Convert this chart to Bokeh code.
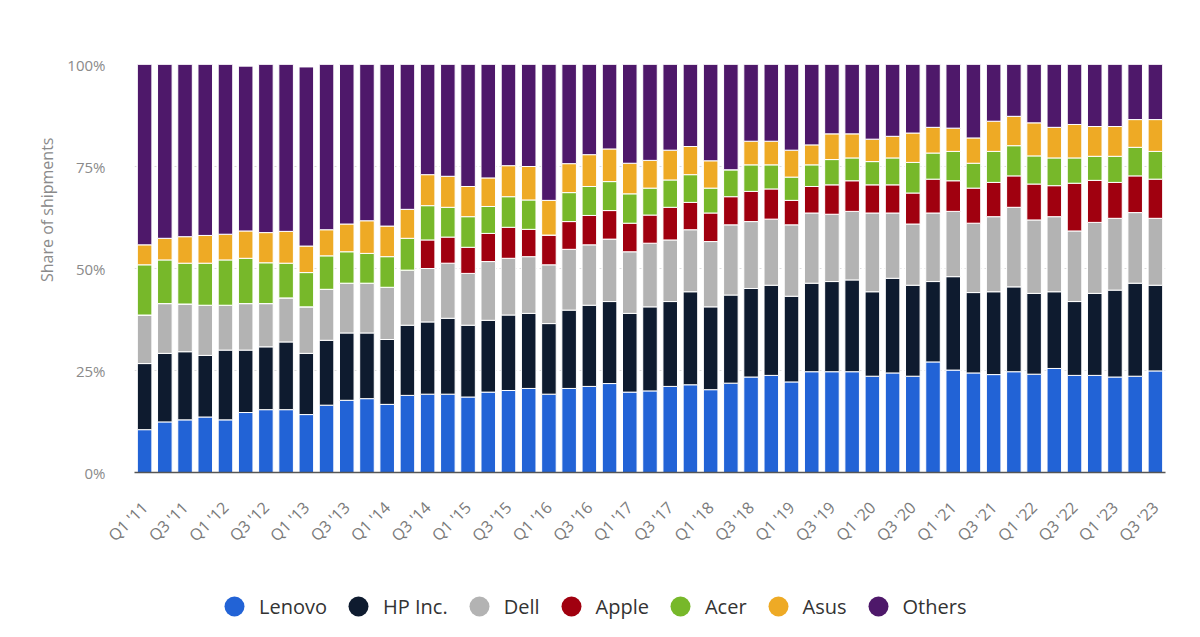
import math
from bokeh.plotting import figure
from bokeh.layouts import column
from bokeh.models import (ColumnDataSource, Range1d, FixedTicker, PrintfTickFormatter,
                          Legend, LegendItem, Title)
from bokeh.embed import file_html
from bokeh.resources import INLINE

quarters = [f"Q{q} '{y:02d}" for y in range(11, 24) for q in range(1, 5)][:51]

lenovo = [10.5, 12.4, 12.9, 13.6, 12.9, 14.7, 15.4, 15.4, 14.2, 16.5,
          17.7, 18.1, 16.7, 18.9, 19.2, 19.2, 18.5, 19.7, 20.1, 20.6,
          19.2, 20.6, 21.1, 21.8, 19.7, 20.0, 21.1, 21.5, 20.3, 21.9,
          23.4, 23.8, 22.2, 24.7, 24.7, 24.7, 23.6, 24.4, 23.6, 27.1,
          25.1, 24.4, 24.0, 24.7, 24.1, 25.5, 23.8, 23.8, 23.4, 23.6, 24.9]
hp = [16.2, 16.8, 16.7, 15.1, 17.1, 15.3, 15.4, 16.6, 15.0, 15.9,
      16.5, 16.1, 15.9, 17.2, 17.7, 18.6, 17.6, 17.6, 18.5, 18.4,
      17.3, 19.2, 19.9, 20.1, 19.3, 20.6, 20.8, 22.8, 20.3, 21.6,
      21.7, 22.1, 21.0, 21.7, 22.1, 22.5, 20.7, 23.2, 22.3, 19.7,
      22.9, 19.7, 20.3, 20.8, 19.8, 18.8, 18.1, 20.1, 21.3, 22.8, 21.0]
dell = [11.9, 12.2, 11.7, 12.3, 11.0, 11.4, 10.6, 10.8, 11.4, 12.5,
        12.2, 12.2, 12.8, 13.5, 13.1, 13.5, 12.7, 14.4, 13.9, 13.9,
        14.4, 14.9, 14.8, 15.3, 15.1, 15.6, 15.1, 15.2, 16.0, 17.2,
        16.4, 16.2, 17.5, 17.2, 16.5, 16.8, 19.3, 16.0, 15.0, 16.8,
        16.0, 17.0, 18.4, 19.5, 18.0, 18.4, 17.3, 17.4, 17.6, 17.3, 16.4]
apple = [0, 0, 0, 0, 0, 0, 0, 0, 0, 0,
         0, 0, 0, 0, 7.0, 6.4, 6.4, 6.9, 7.6, 6.7,
         7.3, 6.8, 7.2, 7.0, 7.0, 6.9, 8.0, 6.7, 7.0, 6.9,
         7.4, 7.4, 6.0, 6.5, 7.2, 7.5, 6.9, 6.9, 7.6, 8.3,
         7.5, 8.6, 8.4, 7.7, 8.8, 7.6, 11.7, 10.3, 8.8, 9.0, 9.6]
acer = [12.3, 10.7, 10.0, 10.3, 11.1, 11.1, 10.0, 8.5, 8.4, 8.2,
        7.7, 7.3, 7.5, 7.8, 8.4, 7.3, 7.5, 6.6, 7.5, 7.2,
        0, 7.1, 7.1, 7.1, 7.2, 6.6, 6.7, 6.8, 6.1, 6.6,
        6.5, 5.9, 5.7, 5.3, 6.2, 5.6, 5.7, 6.6, 7.5, 6.4,
        7.2, 6.1, 7.6, 7.4, 6.9, 6.8, 6.2, 5.9, 6.4, 7.0, 6.8]
asus = [4.9, 5.3, 6.5, 6.8, 6.3, 6.7, 7.4, 7.8, 6.5, 6.4,
        6.8, 8.0, 7.5, 7.1, 7.6, 7.6, 7.4, 7.0, 7.6, 8.2,
        8.5, 7.1, 7.8, 8.0, 7.5, 6.8, 7.3, 6.9, 6.7, 0,
        5.8, 5.8, 6.6, 4.9, 6.3, 5.9, 5.5, 5.3, 7.2, 6.3,
        5.7, 6.2, 7.4, 7.2, 8.1, 7.5, 8.2, 7.3, 7.3, 6.8, 7.8]
others = [44.2, 42.6, 42.2, 41.9, 41.6, 40.4, 41.2, 40.9, 43.9, 40.5,
          39.1, 38.3, 39.6, 35.5, 27.0, 27.4, 29.9, 27.8, 24.8, 25.0,
          33.3, 24.3, 22.1, 20.7, 24.2, 23.5, 21.0, 20.1, 23.6, 25.8,
          18.8, 18.8, 21.0, 19.7, 17.0, 17.0, 18.3, 17.6, 16.8, 15.4,
          15.6, 18.0, 13.9, 12.7, 14.3, 15.4, 14.7, 15.2, 15.2, 13.5, 13.5]

brands = ["Lenovo", "HP Inc.", "Dell", "Apple", "Acer", "Asus", "Others"]
keys = ["lenovo", "hp", "dell", "apple", "acer", "asus", "others"]
colors = ["#2263d6", "#0e1b2f", "#b3b3b3", "#a0000f", "#77b82a", "#eeaa25", "#4e186a"]
y_ticks = [0, 25, 50, 75, 100]

source = ColumnDataSource(dict(x=list(range(len(quarters))), lenovo=lenovo, hp=hp, dell=dell,
                               apple=apple, acer=acer, asus=asus, others=others))

p = figure(width=1200, height=574, output_backend="svg", toolbar_location=None,
           x_range=Range1d(-0.5, len(quarters) - 0.5), y_range=Range1d(0, 100),
           min_border_left=134, min_border_right=35, min_border_top=64, min_border_bottom=102)
p.outline_line_color = None
p.background_fill_color = "white"

p.vbar_stack(keys, x="x", width=0.72, fill_color=colors, line_color="white", line_width=1, source=source)

# x axis
p.xaxis.ticker = FixedTicker(ticks=list(range(0, len(quarters), 2)))
p.xaxis.major_label_overrides = {i: quarters[i] for i in range(0, len(quarters), 2)}
p.xaxis.major_label_orientation = math.pi / 4
p.xaxis.major_label_text_font = "Open Sans"
p.xaxis.major_label_text_font_size = "16px"
p.xaxis.major_label_text_color = "#7a7a7a"
p.xaxis.major_label_standoff = 26
p.xaxis.axis_line_color = "#555555"
p.xaxis.axis_line_width = 1.5
p.xaxis.major_tick_line_color = None
p.xaxis.minor_tick_line_color = None

# y axis
p.yaxis.ticker = FixedTicker(ticks=y_ticks)
p.yaxis.formatter = PrintfTickFormatter(format="%d%%")
p.yaxis.major_label_text_font = "Open Sans"
p.yaxis.major_label_text_font_size = "15px"
p.yaxis.major_label_text_color = "#8a8a8a"
p.yaxis.major_label_standoff = 23
p.yaxis.axis_line_color = None
p.yaxis.major_tick_line_color = None
p.yaxis.minor_tick_line_color = None

ytitle = Title(text="Share of shipments", align="right", offset=73, standoff=14,
               text_font="Open Sans", text_font_style="normal", text_font_size="16px",
               text_color="#8a8a8a")
p.add_layout(ytitle, "left")

p.xgrid.visible = False
p.ygrid.grid_line_color = "#dcdcdc"
p.ygrid.grid_line_dash = "2 3"

# legend in a separate strip below the chart
lg = figure(width=1200, height=63, output_backend="svg", toolbar_location=None,
            x_range=Range1d(0, 1), y_range=Range1d(0, 1), min_border=0)
lg.outline_line_color = None
lg.axis.visible = False
lg.grid.visible = False

items = []
for k, b, c in zip(keys, brands, colors):
    # zero-radius helper renderers: invisible in the strip, only feed the legend
    r = lg.circle(x="x", y=k, radius=0, source=source, fill_color=c, line_color=None)
    items.append(LegendItem(label=b, renderers=[r]))

legend = Legend(items=items, orientation="horizontal", location=(75, 6),
                glyph_width=50, glyph_height=50, label_standoff=-3, spacing=6,
                padding=0, margin=0, border_line_color=None, background_fill_alpha=0,
                label_text_font="Open Sans", label_text_font_size="20px", label_text_color="#333333")
lg.add_layout(legend, "center")

layout = column(p, lg, spacing=0)
open("out.html", "w").write(file_html(layout, INLINE))
